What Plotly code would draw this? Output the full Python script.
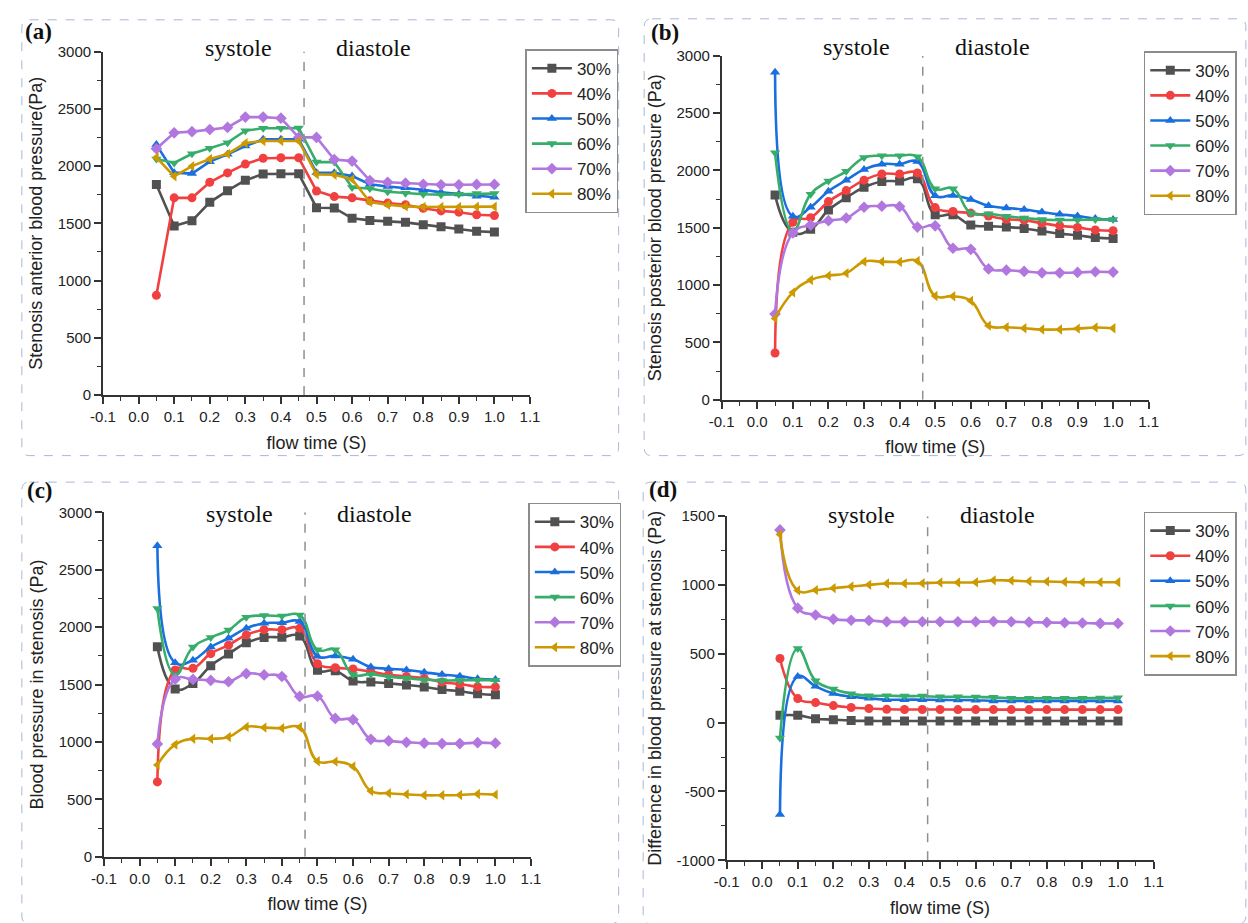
import plotly.graph_objects as go

W, H = 1248, 923

# ---- data -------------------------------------------------------------
flow_time = [0.05, 0.10, 0.15, 0.20, 0.25, 0.30, 0.35, 0.40, 0.45, 0.50,
             0.55, 0.60, 0.65, 0.70, 0.75, 0.80, 0.85, 0.90, 0.95, 1.00]
stenosis_levels = ["30%", "40%", "50%", "60%", "70%", "80%"]

# (a) pressure upstream of the stenosis (Pa)
anterior_30 = [1839, 1477, 1521, 1683, 1785, 1876, 1930, 1932, 1932, 1636, 1634, 1543, 1525, 1517, 1508, 1488, 1469, 1451, 1431, 1423]
anterior_40 = [871, 1722, 1722, 1858, 1940, 2017, 2068, 2072, 2072, 1782, 1733, 1722, 1696, 1676, 1662, 1631, 1608, 1597, 1574, 1568]
anterior_50 = [2187, 1942, 1934, 2038, 2103, 2174, 2233, 2234, 2234, 1942, 1941, 1912, 1841, 1821, 1810, 1793, 1770, 1756, 1736, 1727]
anterior_60 = [2062, 2027, 2107, 2156, 2204, 2308, 2330, 2330, 2332, 2034, 2034, 1813, 1804, 1776, 1762, 1753, 1750, 1753, 1759, 1759]
anterior_70 = [2151, 2290, 2300, 2319, 2337, 2427, 2427, 2418, 2250, 2250, 2056, 2043, 1873, 1858, 1850, 1841, 1836, 1836, 1839, 1839]
anterior_80 = [2075, 1910, 1999, 2061, 2106, 2200, 2219, 2219, 2219, 1927, 1924, 1884, 1685, 1662, 1648, 1642, 1642, 1642, 1645, 1645]

# (b) pressure downstream of the stenosis (Pa)
posterior_30 = [1785, 1460, 1486, 1654, 1762, 1853, 1904, 1907, 1927, 1614, 1614, 1523, 1514, 1506, 1494, 1471, 1449, 1434, 1414, 1406]
posterior_40 = [407, 1548, 1588, 1728, 1824, 1915, 1969, 1969, 1978, 1676, 1642, 1628, 1602, 1574, 1565, 1540, 1517, 1503, 1480, 1474]
posterior_50 = [2857, 1600, 1679, 1819, 1915, 2009, 2055, 2055, 2078, 1779, 1782, 1747, 1691, 1673, 1659, 1637, 1617, 1602, 1580, 1571]
posterior_60 = [2154, 1471, 1793, 1907, 1992, 2112, 2129, 2129, 2120, 1841, 1841, 1628, 1622, 1600, 1585, 1571, 1568, 1568, 1571, 1571]
posterior_70 = [748, 1454, 1523, 1562, 1585, 1679, 1688, 1685, 1506, 1517, 1321, 1312, 1141, 1130, 1119, 1107, 1107, 1110, 1116, 1113]
posterior_80 = [709, 936, 1044, 1082, 1104, 1204, 1204, 1201, 1210, 905, 902, 862, 646, 632, 623, 612, 612, 620, 629, 623]

# (c) pressure inside the stenosis (Pa)
inside_30 = [1830, 1462, 1510, 1664, 1766, 1863, 1909, 1912, 1923, 1624, 1621, 1530, 1521, 1510, 1496, 1479, 1456, 1442, 1419, 1410]
inside_40 = [652, 1627, 1641, 1769, 1843, 1932, 1977, 1977, 1989, 1681, 1647, 1635, 1612, 1587, 1570, 1553, 1521, 1504, 1481, 1479]
inside_50 = [2709, 1690, 1712, 1826, 1903, 1989, 2034, 2037, 2048, 1746, 1749, 1721, 1652, 1638, 1627, 1607, 1587, 1573, 1550, 1544]
inside_60 = [2162, 1584, 1826, 1909, 1974, 2085, 2100, 2097, 2105, 1803, 1803, 1587, 1590, 1567, 1556, 1541, 1536, 1536, 1538, 1538]
inside_70 = [983, 1547, 1544, 1536, 1524, 1595, 1584, 1570, 1396, 1399, 1205, 1194, 1023, 1009, 997, 989, 986, 986, 994, 989]
inside_80 = [800, 977, 1028, 1028, 1043, 1131, 1125, 1120, 1128, 832, 829, 786, 573, 553, 544, 536, 536, 538, 547, 541]

# (d) pressure difference across the stenosis (Pa)
diff_30 = [53, 53, 29, 22, 15, 13, 12, 12, 12, 12, 12, 12, 12, 12, 12, 12, 12, 12, 12, 12]
diff_40 = [466, 175, 146, 124, 110, 103, 97, 96, 96, 96, 95, 95, 95, 95, 95, 95, 95, 95, 95, 95]
diff_50 = [-667, 335, 264, 212, 188, 177, 167, 167, 167, 165, 165, 163, 158, 158, 158, 158, 158, 158, 158, 158]
diff_60 = [-111, 538, 305, 245, 210, 196, 196, 193, 193, 188, 188, 186, 184, 177, 177, 177, 177, 177, 179, 181]
diff_70 = [1400, 832, 782, 752, 744, 742, 733, 733, 733, 733, 733, 733, 735, 733, 730, 728, 726, 724, 721, 721]
diff_80 = [1367, 961, 963, 977, 989, 1001, 1011, 1011, 1013, 1018, 1018, 1020, 1034, 1032, 1027, 1025, 1022, 1020, 1020, 1020]

x_tick_vals = [-0.1, 0.0, 0.1, 0.2, 0.3, 0.4, 0.5, 0.6, 0.7, 0.8, 0.9, 1.0, 1.1]
x_tick_text = ["-0.1", "0.0", "0.1", "0.2", "0.3", "0.4", "0.5", "0.6", "0.7", "0.8", "0.9", "1.0", "1.1"]
p_tick_vals = [0, 500, 1000, 1500, 2000, 2500, 3000]
p_tick_text = ["0", "500", "1000", "1500", "2000", "2500", "3000"]
d_tick_vals = [-1000, -500, 0, 500, 1000, 1500]
d_tick_text = ["-1000", "-500", "0", "500", "1000", "1500"]

phase_boundary = 0.465

# ---- styling ----------------------------------------------------------
colors = ["#515151", "#F14040", "#1A6FDF", "#37AD6B", "#B177DE", "#CC9900"]
symbols = ["square", "circle", "triangle-up", "triangle-down", "diamond", "triangle-left"]
SANS = "Liberation Sans, Arial, sans-serif"
SERIF = "Liberation Serif, Times New Roman, serif"
AXIS_COLOR = "#333333"


def fx(px):
    return px / W


def fy(py):
    return 1 - py / H


panels = [
    dict(letter="(a)", series=[anterior_30, anterior_40, anterior_50, anterior_60, anterior_70, anterior_80],
         ytitle="Stenosis anterior blood pressure(Pa)", yrange=[0, 3000], ytv=p_tick_vals, ytt=p_tick_text,
         shape="linear", box_x=(91.7, 526.7), box_y=(43.3, 393.3), legend_xy=(522, 41),
         letter_xy=(26, 23), phase_y=40, frame=(9, 11, 617, 455)),
    dict(letter="(b)", series=[posterior_30, posterior_40, posterior_50, posterior_60, posterior_70, posterior_80],
         ytitle="Stenosis posterior blood pressure (Pa)", yrange=[0, 3000], ytv=p_tick_vals, ytt=p_tick_text,
         shape="spline", box_x=(722, 1157), box_y=(47.7, 398), legend_xy=(1152, 43),
         letter_xy=(664, 24), phase_y=39, frame=(643, 10, 1256, 455)),
    dict(letter="(c)", series=[inside_30, inside_40, inside_50, inside_60, inside_70, inside_80],
         ytitle="Blood pressure in stenosis (Pa)", yrange=[0, 3000], ytv=p_tick_vals, ytt=p_tick_text,
         shape="spline", box_x=(92.7, 527.7), box_y=(512.7, 863.7), legend_xy=(525, 503),
         letter_xy=(28, 491), phase_y=514, frame=(9, 482, 617, 932)),
    dict(letter="(d)", series=[diff_30, diff_40, diff_50, diff_60, diff_70, diff_80],
         ytitle="Difference in blood pressure at stenosis (Pa)", yrange=[-1000, 1500], ytv=d_tick_vals, ytt=d_tick_text,
         shape="spline", box_x=(727, 1162), box_y=(516.7, 867.3), legend_xy=(1152, 512),
         letter_xy=(662, 490), phase_y=515, frame=(642, 482, 1256, 932)),
]

fig = go.Figure()
layout = dict(
    width=W, height=H, margin=dict(l=0, r=0, t=0, b=0),
    paper_bgcolor="white", plot_bgcolor="white",
    font=dict(family=SANS, color="#222222"),
    showlegend=True,
)
annotations = []
shapes = []

for i, p in enumerate(panels):
    n = "" if i == 0 else str(i + 1)
    xa, ya = "x" + n, "y" + n
    leg = "legend" + n

    for j, vals in enumerate(p["series"]):
        fig.add_trace(go.Scatter(
            x=flow_time, y=vals, name=stenosis_levels[j], mode="lines+markers",
            xaxis=xa, yaxis=ya, legend=leg,
            line=dict(color=colors[j], width=2.6, shape=p["shape"], smoothing=1.3),
            marker=dict(symbol=symbols[j], size=9, color=colors[j], line=dict(width=0)),
        ))

    axis_common = dict(
        showline=True, linecolor=AXIS_COLOR, linewidth=1.7, mirror=False,
        ticks="outside", ticklen=7, tickwidth=1.5, tickcolor=AXIS_COLOR,
        showgrid=False, zeroline=False,
        tickfont=dict(family=SANS, size=15, color="#222222"),
    )
    layout["xaxis" + n] = dict(
        axis_common,
        domain=[fx(p["box_x"][0]), fx(p["box_x"][1])], range=[-0.1, 1.1],
        anchor=ya, tickmode="array", tickvals=x_tick_vals, ticktext=x_tick_text,
        minor=dict(ticks="outside", ticklen=4, tickwidth=1.2, tickcolor=AXIS_COLOR,
                   tick0=-0.05, dtick=0.1),
        title=dict(text="flow time (S)", font=dict(family=SANS, size=18, color="#222222"), standoff=12),
    )
    layout["yaxis" + n] = dict(
        axis_common,
        domain=[fy(p["box_y"][1]), fy(p["box_y"][0])], range=p["yrange"],
        anchor=xa, tickmode="array", tickvals=p["ytv"], ticktext=p["ytt"],
        minor=dict(ticks="outside", ticklen=4, tickwidth=1.2, tickcolor=AXIS_COLOR,
                   tick0=250, dtick=500),
        title=dict(text=p["ytitle"], font=dict(family=SANS, size=18, color="#222222"), standoff=10),
    )
    layout[leg] = dict(
        x=fx(p["legend_xy"][0]), y=fy(p["legend_xy"][1]), xanchor="left", yanchor="top",
        bgcolor="white", bordercolor="#8c8c8c", borderwidth=1.5,
        font=dict(family=SANS, size=17, color="#222222"),
        itemwidth=40, tracegroupgap=0,
    )

    # boundary between systole and diastole
    shapes.append(dict(type="line", xref=xa, yref=ya, x0=phase_boundary, x1=phase_boundary,
                       y0=p["yrange"][0], y1=p["yrange"][1],
                       line=dict(color="#8f8f8f", width=1.5, dash="dash")))

    # dashed frame around the panel
    l, t, r, b = p["frame"]
    rad = 8
    path = (f"M {fx(l + rad)},{fy(t)} L {fx(r - rad)},{fy(t)} Q {fx(r)},{fy(t)} {fx(r)},{fy(t + rad)} "
            f"L {fx(r)},{fy(b - rad)} Q {fx(r)},{fy(b)} {fx(r - rad)},{fy(b)} "
            f"L {fx(l + rad)},{fy(b)} Q {fx(l)},{fy(b)} {fx(l)},{fy(b - rad)} "
            f"L {fx(l)},{fy(t + rad)} Q {fx(l)},{fy(t)} {fx(l + rad)},{fy(t)} Z")
    shapes.append(dict(type="path", xref="paper", yref="paper", path=path,
                       line=dict(color="#a9b6d6", width=1, dash="dash"), layer="below"))

    annotations.append(dict(text="<b>" + p["letter"] + "</b>", xref="paper", yref="paper",
                            x=fx(p["letter_xy"][0]), y=fy(p["letter_xy"][1]),
                            xanchor="center", yanchor="middle", showarrow=False,
                            font=dict(family=SERIF, size=23, color="#111111")))
    for label, xpos in (("systole", 0.28), ("diastole", 0.66)):
        annotations.append(dict(text=label, xref=xa, yref="paper", x=xpos, y=fy(p["phase_y"]),
                                xanchor="center", yanchor="middle", showarrow=False,
                                font=dict(family=SERIF, size=24, color="#111111")))

layout["annotations"] = annotations
layout["shapes"] = shapes
fig.update_layout(**layout)
fig.write_html("out.html")
